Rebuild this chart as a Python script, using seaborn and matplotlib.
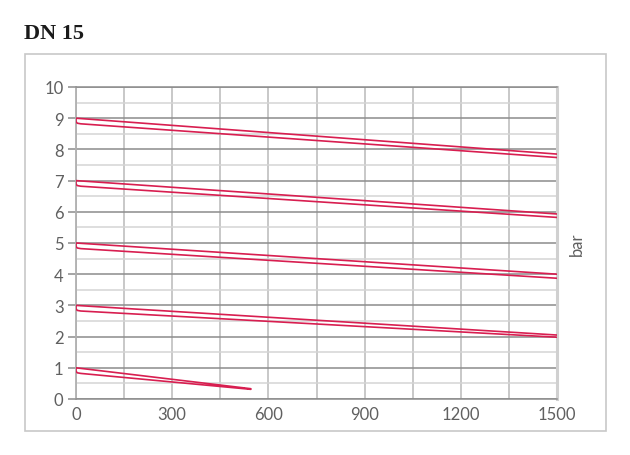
import matplotlib
matplotlib.use("Agg")
import matplotlib.pyplot as plt
from matplotlib.patches import Rectangle
from matplotlib.ticker import MultipleLocator
import seaborn as sns
import pandas as pd

# ---- data ----
curve_names = ["9 bar", "7 bar", "5 bar", "3 bar", "1 bar"]
# each curve: upper branch (x from right to 0), rounded bend at x=0, lower branch back to the right
x_upper = [[1500, 0], [1500, 0], [1500, 0], [1500, 0], [545, 0]]
y_upper = [[7.85, 9.0], [5.93, 7.0], [4.0, 5.0], [2.05, 3.0], [0.33, 1.0]]
x_bend = [0, 4, 15]
y_bend_offset = [-0.11, -0.16, -0.18]
x_lower = [[1500], [1500], [1500], [1500], [545]]
y_lower = [[7.74], [5.82], [3.87], [1.98], [0.31]]

x_ticks = [0, 300, 600, 900, 1200, 1500]
y_ticks = list(range(0, 11))
title = "DN 15"
unit_label = "bar"

rows = []
for i, name in enumerate(curve_names):
    xs, ys = [], []
    xs += x_upper[i]
    ys += y_upper[i]
    top = y_upper[i][-1]
    for bx, by in zip(x_bend, y_bend_offset):
        xs.append(bx)
        ys.append(top + by)
    xs += x_lower[i]
    ys += y_lower[i]
    for k, (xv, yv) in enumerate(zip(xs, ys)):
        rows.append({"x": xv, "y": yv, "curve": name, "order": k})
df = pd.DataFrame(rows)

sns.set_theme(style="white")
plt.rcParams["font.family"] = ["Lato", "DejaVu Sans"]

fig = plt.figure(figsize=(6.3, 4.56), dpi=100)
ax = fig.add_axes([76 / 630, 1 - 400 / 456, (557 - 76) / 630, (400 - 88) / 456])

# outer frame
fig.patches.append(Rectangle((25 / 630, 1 - 432 / 456), (606 - 25) / 630, (432 - 55) / 456,
                             transform=fig.transFigure, fill=False, edgecolor="#c8c8c8",
                             linewidth=1.2, zorder=0))

ax.set_xlim(0, 1500)
ax.set_ylim(0, 10)

# grid
ax.xaxis.set_major_locator(MultipleLocator(300))
ax.xaxis.set_minor_locator(MultipleLocator(150))
ax.yaxis.set_major_locator(MultipleLocator(1))
ax.yaxis.set_minor_locator(MultipleLocator(0.5))
ax.grid(which="major", axis="y", color="#8c8c8c", linewidth=1.1, zorder=1)
ax.grid(which="minor", axis="y", color="#d4d4d4", linewidth=1.1, zorder=0.5)
ax.grid(which="both", axis="x", color="#c4c4c4", linewidth=1.3, zorder=0.8)
ax.set_axisbelow(True)

sns.lineplot(data=df, x="x", y="y", units="curve", estimator=None, sort=False,
             color="#d81e50", linewidth=1.2, ax=ax, legend=False, zorder=3)

ax.set_xticks(x_ticks)
ax.set_xticklabels([str(v) for v in x_ticks])
ax.set_yticks(y_ticks)
ax.set_yticklabels([str(v) for v in y_ticks])
ax.tick_params(axis="x", which="both", length=0, pad=5, labelsize=12, labelcolor="#606060")
ax.tick_params(axis="y", which="major", length=6, width=1.1, color="#8c8c8c", pad=3,
               labelsize=12, labelcolor="#606060", left=True)
ax.tick_params(axis="y", which="minor", length=0)
ax.set_xlabel("")
ax.set_ylabel("")

ax.spines["left"].set_color("#b0b0b0")
ax.spines["left"].set_linewidth(1.3)
ax.spines["bottom"].set_color("#8c8c8c")
ax.spines["bottom"].set_linewidth(1.1)
ax.spines["top"].set_color("#8c8c8c")
ax.spines["top"].set_linewidth(1.1)
ax.spines["right"].set_color("#d0d0d0")
ax.spines["right"].set_linewidth(2.2)

ax.text(1.042, 0.5, unit_label, transform=ax.transAxes, rotation=90, ha="center", va="center",
        fontsize=12, color="#606060")

fig.text(24 / 630, 1 - 34 / 456, title, fontsize=16, fontweight="bold",
         family=["Liberation Serif", "DejaVu Serif"], color="#1a1a1a", ha="left", va="center")

fig.savefig("out.png", dpi=100, facecolor="white")
